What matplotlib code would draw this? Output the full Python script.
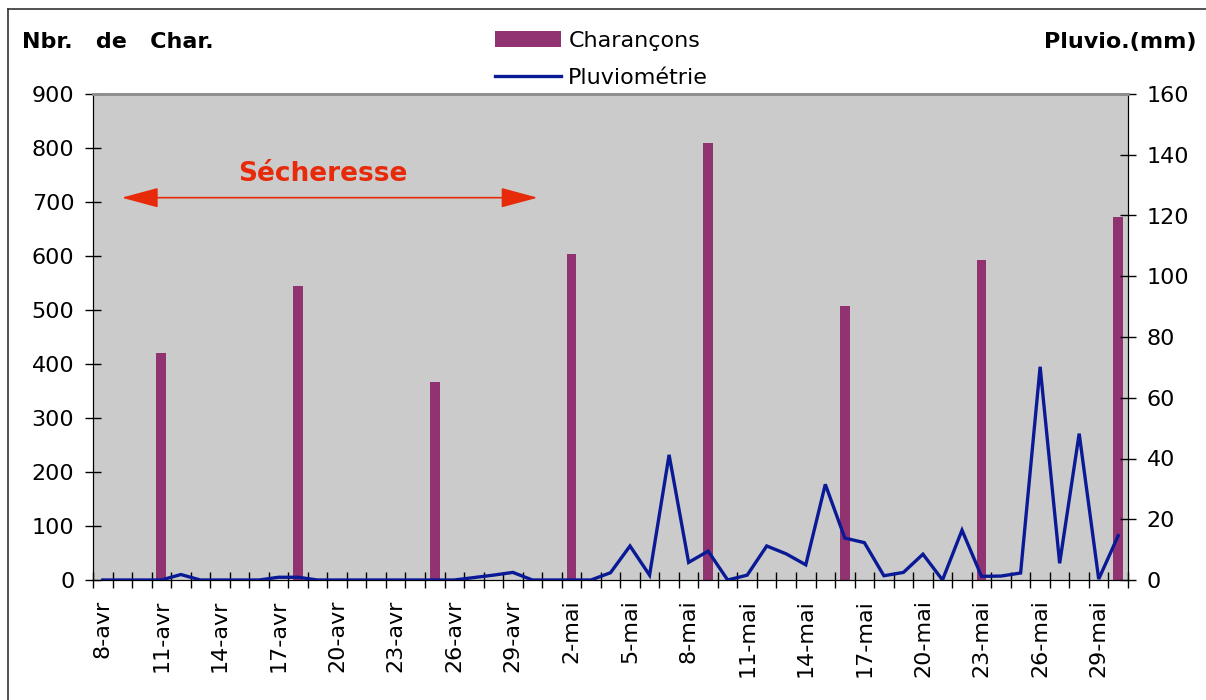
import matplotlib
matplotlib.use("Agg")
import matplotlib.pyplot as plt
import numpy as np
from matplotlib.lines import Line2D
from matplotlib.patches import Patch

plt.rcParams['font.family'] = ['DejaVu Sans']

# Daily categories, 8 April to 30 May
days = [f"{d}-avr" for d in range(8, 31)] + [f"{d}-mai" for d in range(1, 31)]

# Rainfall per day (mm)
pluvio = [0, 0, 0, 0, 1.8, 0, 0, 0, 0, 0.9,
          0.9, 0, 0, 0, 0, 0, 0, 0, 0, 0.8,
          1.6, 2.5, 0, 0, 0, 0, 2.4, 11.2, 1.6, 41.2,
          5.8, 9.5, 0, 1.6, 11.2, 8.6, 5.0, 31.5, 13.8, 12.3,
          1.4, 2.5, 8.5, 0, 16.4, 1.2, 1.3, 2.3, 70.2, 5.5,
          48.2, 0.3, 14.6]

# Weekly weevil counts
charancons_dates = ['11-avr', '18-avr', '25-avr', '2-mai', '9-mai', '16-mai', '23-mai', '30-mai']
charancons = [420, 544, 366, 604, 810, 508, 593, 672]

tick_labels = ['8-avr', '11-avr', '14-avr', '17-avr', '20-avr', '23-avr', '26-avr', '29-avr',
               '2-mai', '5-mai', '8-mai', '11-mai', '14-mai', '17-mai', '20-mai', '23-mai',
               '26-mai', '29-mai']

left_ticks = list(range(0, 901, 100))
right_ticks = list(range(0, 161, 20))

BAR = '#923371'
LINE = '#0A1A96'
RED = '#E62A0A'
BG = '#CBCBCB'

W, H = 1206, 700
fig = plt.figure(figsize=(W / 100, H / 100), dpi=100)
ax = fig.add_axes([93 / W, 1 - 580 / H, (1128 - 93) / W, (580 - 94) / H])
ax.set_facecolor(BG)

x = np.arange(len(days))
bar_x = [days.index(d) for d in charancons_dates]
ax.bar(bar_x, charancons, width=0.5, color=BAR, zorder=2)
ax.set_xlim(-0.5, len(days) - 0.5)
ax.set_ylim(0, 900)
ax.set_yticks(left_ticks)

ax2 = ax.twinx()
ax2.plot(x, pluvio, color=LINE, lw=2.4, solid_joinstyle='miter', zorder=3)
ax2.set_ylim(0, 160)
ax2.set_yticks(right_ticks)

# Day boundaries as ticks, date labels at every third day
ax.set_xticks(np.arange(-0.5, len(days), 1))
ax.set_xticklabels([])
ax.set_xticks([days.index(t) for t in tick_labels], minor=True)
ax.set_xticklabels(tick_labels, minor=True, rotation=90, fontsize=16)
ax.tick_params(axis='x', which='major', direction='inout', length=11, width=1, color='black')
ax.tick_params(axis='x', which='minor', length=0, pad=14)
ax.tick_params(axis='y', direction='inout', length=11, width=1, labelsize=16, pad=8)
ax2.tick_params(axis='y', direction='inout', length=11, width=1, labelsize=16, pad=8)

for a in (ax, ax2):
    a.spines['top'].set_color('#8f8f8f')
    a.spines['top'].set_linewidth(2)
    a.spines['left'].set_color('black')
    a.spines['right'].set_color('black')
    a.spines['bottom'].set_color('black')

# Dry-period annotation
ax.annotate('', xy=(22.27, 708), xytext=(0.97, 708),
            arrowprops=dict(arrowstyle='<|-|>,head_length=2.3,head_width=0.62',
                            mutation_scale=10, lw=1.2, color=RED,
                            shrinkA=0, shrinkB=0), zorder=4)
ax.text(11.28, 752, 'Sécheresse', color=RED, fontsize=19, fontweight='bold',
        ha='center', va='center', zorder=4)

# Axis titles
fig.text(22 / W, 1 - 42 / H, 'Nbr.   de   Char.', fontsize=16, fontweight='bold',
         ha='left', va='center')
fig.text(1196 / W, 1 - 42 / H, 'Pluvio.(mm)', fontsize=16, fontweight='bold',
         ha='right', va='center')

handles = [Patch(facecolor=BAR, edgecolor='none'),
           Line2D([0], [0], color=LINE, lw=2.4)]
fig.legend(handles, ['Charançons', 'Pluviométrie'], loc='upper left',
           bbox_to_anchor=(495 / W, 1 - 31 / H), frameon=False, fontsize=16,
           handlelength=2.95, handletextpad=0.35, labelspacing=0.75,
           borderpad=0, borderaxespad=0)

# Outer frame
fig.add_artist(Line2D([8 / W, 8 / W], [0, 1 - 9 / H], color='#333333', lw=1.2,
                      transform=fig.transFigure))
fig.add_artist(Line2D([8 / W, 1], [1 - 9 / H, 1 - 9 / H], color='#333333', lw=1.2,
                      transform=fig.transFigure))

fig.savefig('out.png', dpi=100)
